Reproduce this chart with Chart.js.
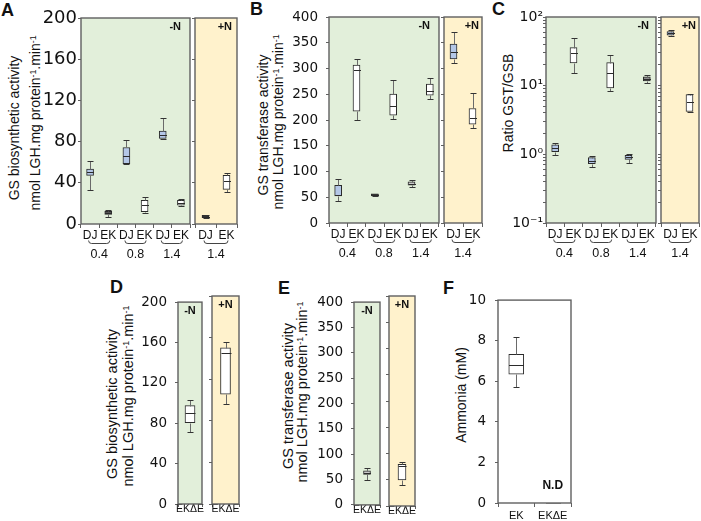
<!DOCTYPE html>
<html><head><meta charset="utf-8">
<script src="https://cdn.jsdelivr.net/npm/chart.js@4"></script>
<style>
html,body{margin:0;padding:0;background:#fff;}
body{width:701px;height:521px;overflow:hidden;position:relative;font-family:'Liberation Sans',Arial,Helvetica,sans-serif;color:#111;}
canvas{position:absolute;}
.pl{position:absolute;font-weight:bold;font-size:18px;line-height:18px;}
.yt{position:absolute;white-space:nowrap;line-height:1;transform:translate(-50%,-50%) rotate(-90deg);}
.sp{font-size:0.62em;position:relative;top:-0.5em;}
</style></head><body>
<div class="pl" style="left:1px;top:1px">A</div>
<div class="pl" style="left:250px;top:0px">B</div>
<div class="pl" style="left:492px;top:0px">C</div>
<div class="pl" style="left:110px;top:278px">D</div>
<div class="pl" style="left:278px;top:279px">E</div>
<div class="pl" style="left:443px;top:279px">F</div>

<div class="yt" style="left:13.5px;top:128px;font-size:14px">GS biosynthetic activity</div>
<div class="yt" style="left:35px;top:122.5px;font-size:14px">nmol LGH.mg protein<span class="sp">-1</span>.min<span class="sp">-1</span></div>
<div class="yt" style="left:263px;top:125px;font-size:14px">GS transferase activity</div>
<div class="yt" style="left:277.5px;top:122px;font-size:14px">nmol LGH.mg protein<span class="sp">-1</span>.min<span class="sp">-1</span></div>
<div class="yt" style="left:508px;top:103px;font-size:14px">Ratio GST/GSB</div>
<div class="yt" style="left:112px;top:404px;font-size:14.5px">GS biosynthetic activity</div>
<div class="yt" style="left:128px;top:396px;font-size:14.5px">nmol LGH.mg protein<span class="sp">-1</span>.min<span class="sp">-1</span></div>
<div class="yt" style="left:288px;top:396px;font-size:14.5px">GS transferase activity</div>
<div class="yt" style="left:301.5px;top:392px;font-size:14.5px">nmol LGH.mg protein<span class="sp">-1</span>.min<span class="sp">-1</span></div>
<div class="yt" style="left:461px;top:395px;font-size:14px">Ammonia (mM)</div>

<script>
// ---------------- DATA ----------------
// Panel A : GS biosynthetic activity
const aCatsN = ['DJ','EK','DJ','EK','DJ','EK'];
const aGroupsN = ['0.4','0.8','1.4'];
const aMinN = [33.0, 7.1, 58.5, 10.7, 82.4, 17.8];
const aQ1N  = [47.2, 9.4, 58.5, 12.0, 83.0, 18.4];
const aMedN = [50.4, 10.8, 65.9, 18.4, 86.6, 20.7];
const aQ3N  = [53.3, 12.3, 74.3, 22.9, 90.1, 22.9];
const aMaxN = [60.7, 13.2, 81.7, 26.2, 102.7, 23.9];
const aCatsP = ['DJ','EK'];
const aGroupsP = ['1.4'];
const aMinP = [6.0, 30.7];
const aQ1P  = [6.1, 33.6];
const aMedP = [7.2, 41.4];
const aQ3P  = [8.4, 47.2];
const aMaxP = [8.5, 50.0];
const aTicks = [0, 40, 80, 120, 160, 200];

// Panel B : GS transferase activity
const bCatsN = ['DJ','EK','DJ','EK','DJ','EK'];
const bGroupsN = ['0.4','0.8','1.4'];
const bMinN = [42.0, 200.0, 52.0, 201.7, 69.4, 240.6];
const bQ1N  = [52.5, 217.2, 52.5, 209.5, 73.3, 248.4];
const bMedN = [54.0, 297.0, 54.5, 227.0, 76.5, 256.0];
const bQ3N  = [73.3, 306.7, 56.4, 250.3, 79.8, 269.8];
const bMaxN = [85.0, 318.4, 57.0, 277.6, 84.3, 280.8];
const bCatsP = ['DJ','EK'];
const bGroupsP = ['1.4'];
const bMinP = [310.0, 183.5];
const bQ1P  = [318.4, 192.0];
const bMedP = [332.0, 204.3];
const bQ3P  = [347.6, 222.4];
const bMaxP = [370.3, 252.3];
const bTicks = [0, 50, 100, 150, 200, 250, 300, 350, 400];

// Panel C : Ratio GST/GSB (log)
const cCatsN = ['DJ','EK','DJ','EK','DJ','EK'];
const cGroupsN = ['0.4','0.8','1.4'];
const cMinN = [0.98, 15.4, 0.66, 8.24, 0.74, 11.0];
const cQ1N  = [1.09, 21.4, 0.73, 9.3, 0.845, 11.7];
const cMedN = [1.22, 30.3, 0.81, 15.1, 0.90, 12.6];
const cQ3N  = [1.38, 35.8, 0.894, 21.6, 0.967, 13.5];
const cMaxN = [1.46, 50.0, 0.956, 28.3, 1.0, 14.4];
const cCatsP = ['DJ','EK'];
const cGroupsP = ['1.4'];
const cMinP = [52.3, 4.15];
const cQ1P  = [54.6, 4.2];
const cMedP = [57.8, 5.75];
const cQ3P  = [61.2, 7.4];
const cMaxP = [64.0, 7.5];
const cLabelVals = [0.1, 1, 10, 100];
const cLabelText = ['10\u207B\u00B9', '10\u2070', '10\u00B9', '10\u00B2'];

// Panel D : GS biosynthetic activity, EKΔE
const dCats = ['EK\u0394E'];
const dMinN = [71.0],  dQ1N = [80.6],  dMedN = [90.6],  dQ3N = [97.4],  dMaxN = [102.8];
const dMinP = [96.4],  dQ1P = [105.7], dMedP = [145.3], dQ3P = [150.1], dMaxP = [155.6];
const dTicks = [0, 40, 80, 120, 160, 200];

// Panel E : GS transferase activity, EKΔE
const eCats = ['EK\u0394E'];
const eMinN = [50.0], eQ1N = [60.0], eMedN = [63.0], eQ3N = [67.0], eMaxN = [72.0];
const eMinP = [40.0], eQ1P = [49.5], eMedP = [76.5], eQ3P = [79.5], eMaxP = [84.0];
const eTicks = [0, 50, 100, 150, 200, 250, 300, 350, 400];

// Panel F : Ammonia
const fCats = ['EK', 'EK\u0394E'];
const fMin = [5.71, 0], fQ1 = [6.35, 0], fMed = [6.78, 0], fQ3 = [7.33, 0], fMax = [8.19, 0];
const fNote = ['', 'N.D'];
const fTicks = [0, 2, 4, 6, 8, 10];

// ---------------- STYLE ----------------
const FONT = "'Liberation Sans', Arial, Helvetica, sans-serif";
const TFONT = "'DejaVu Sans', 'Liberation Sans', sans-serif";
const FRAME = '#606060';
const GREEN = '#e2efda', YELLOW = '#fff2cc', BLUE = '#b4c7e7';
Chart.defaults.font.family = FONT;
Chart.defaults.color = '#111';

function pairGroups(names) { return names.map((t, i) => ({text: t, a: 2 * i, b: 2 * i + 1})); }

function makeDeco(o) {
  return {
    id: 'boxdeco',
    beforeDraw(chart) {
      const {ctx, chartArea: a} = chart;
      ctx.save(); ctx.fillStyle = o.bg;
      ctx.fillRect(a.left, a.top, a.right - a.left, a.bottom - a.top);
      ctx.restore();
    },
    afterDatasetsDraw(chart) {
      const {ctx} = chart; const ys = chart.scales.y;
      const meta = chart.getDatasetMeta(0); const s = o.stats;
      const seg = (x1, y1, x2, y2) => { ctx.beginPath(); ctx.moveTo(x1, y1); ctx.lineTo(x2, y2); ctx.stroke(); };
      ctx.save(); ctx.lineWidth = 1;
      meta.data.forEach((bar, i) => {
        const x = Math.round(bar.x) + 0.5; const hw = bar.width / 2;
        const py = v => Math.round(ys.getPixelForValue(v)) + 0.5;
        const yMin = py(s.min[i]), yQ1 = py(s.q1[i]), yMed = py(s.med[i]), yQ3 = py(s.q3[i]), yMax = py(s.max[i]);
        ctx.strokeStyle = '#6a6a6a';
        seg(x, yQ3, x, yMax); seg(x, yQ1, x, yMin);
        ctx.strokeStyle = '#333';
        seg(x - 3, yMax, x + 3, yMax); seg(x - 3, yMin, x + 3, yMin);
        ctx.strokeStyle = s.q3[i] === 0 ? '#999' : '#2b2b2b';
        seg(x - hw, yMed, x + hw, yMed);
      });
      ctx.restore();
    },
    afterDraw(chart) {
      const {ctx, chartArea: a} = chart; const xs = chart.scales.x;
      ctx.save();
      ctx.strokeStyle = FRAME; ctx.lineWidth = 1.4;
      ctx.strokeRect(a.left, a.top, a.right - a.left, a.bottom - a.top);
      ctx.fillStyle = '#111'; ctx.textBaseline = 'middle';
      if (o.tag) {
        ctx.font = 'bold 11px ' + FONT;
        if (o.tagAlign === 'center') { ctx.textAlign = 'center'; ctx.fillText(o.tag, (a.left + a.right) / 2, a.top + 9); }
        else { ctx.textAlign = 'right'; ctx.fillText(o.tag, a.right - o.tagInset, a.top + 9); }
      }
      if (o.groups) {
        ctx.strokeStyle = '#444'; ctx.lineWidth = 1; ctx.font = '12.5px ' + FONT; ctx.textAlign = 'center';
        o.groups.forEach(g => {
          const x0 = xs.getPixelForValue(g.a) - 1.5, x1 = xs.getPixelForValue(g.b) + 1.5;
          const yb = a.bottom + 19.5;
          ctx.beginPath(); ctx.moveTo(x0, yb - 3); ctx.quadraticCurveTo(x0, yb, x0 + 3, yb);
          ctx.lineTo(x1 - 3, yb); ctx.quadraticCurveTo(x1, yb, x1, yb - 3); ctx.stroke();
          ctx.fillText(g.text, (x0 + x1) / 2, a.bottom + 30.5);
        });
      }
      if (o.notes) {
        ctx.font = 'bold 12px ' + FONT; ctx.textAlign = 'center';
        o.notes.forEach((t, i) => { if (t) ctx.fillText(t, xs.getPixelForValue(i), a.bottom - 17); });
      }
      ctx.restore();
    }
  };
}

function makeChart(o) {
  const cv = document.createElement('canvas');
  cv.width = o.cw; cv.height = o.ch;
  cv.style.left = o.cl + 'px'; cv.style.top = o.ct + 'px';
  cv.style.width = o.cw + 'px'; cv.style.height = o.ch + 'px';
  document.body.appendChild(cv);
  const L = o.area[0] - o.cl, T = o.area[1] - o.ct, R = o.area[2] - o.cl, B = o.area[3] - o.ct;
  const yScale = {
    type: o.log ? 'logarithmic' : 'linear',
    min: o.ymin, max: o.ymax,
    afterBuildTicks: s => { s.ticks = o.yTicks.map(v => ({value: v})); },
    afterFit: s => { s.width = L; },
    border: {display: false},
    grid: {drawOnChartArea: false, drawTicks: true, tickLength: 3, tickColor: FRAME, color: FRAME, tickWidth: 1},
    ticks: {display: !!o.showY, autoSkip: false, padding: o.yPad || 0, color: '#111',
            font: {family: TFONT, size: o.yFont || 13}, callback: o.yCallback || (v => String(v))}
  };
  return new Chart(cv, {
    type: 'bar',
    data: {labels: o.cats, datasets: [{
      data: o.stats.q1.map((v, i) => [v, o.stats.q3[i]]),
      backgroundColor: o.fills, borderColor: '#2b2b2b', borderWidth: 1,
      borderSkipped: false, barThickness: o.boxW
    }]},
    options: {
      responsive: false, animation: false, devicePixelRatio: 1,
      layout: {padding: {left: 0, top: T, right: o.cw - R, bottom: 0}},
      plugins: {legend: {display: false}, tooltip: {enabled: false}},
      scales: {
        x: {
          type: 'category', offset: true,
          afterFit: s => { s.height = o.ch - B; },
          border: {display: false},
          grid: {offset: true, drawOnChartArea: false, drawTicks: true, tickLength: o.xTick, tickColor: FRAME, color: FRAME},
          ticks: {autoSkip: false, maxRotation: 0, minRotation: 0, padding: o.xPad, color: '#111', font: {family: FONT, size: o.xFont}}
        },
        y: yScale
      }
    },
    plugins: [makeDeco({bg: o.bg, stats: o.stats, tag: o.tag, tagAlign: o.tagAlign, tagInset: o.tagInset, groups: o.groups, notes: o.notes})]
  });
}

const st = (min, q1, med, q3, max) => ({min, q1, med, q3, max});

// ---- Panel A ----
makeChart({cl: 30, ct: 0, cw: 163, ch: 265, area: [81, 18, 190, 224], cats: aCatsN,
  stats: st(aMinN, aQ1N, aMedN, aQ3N, aMaxN), fills: [BLUE, '#555', BLUE, '#fff', BLUE, '#fff'], boxW: 7,
  ymin: aTicks[0], ymax: aTicks[aTicks.length - 1], yTicks: aTicks, showY: true, yFont: 18, yPad: 1,
  xTick: 4, xPad: 0, xFont: 12, bg: GREEN, tag: '-N', tagInset: 9, groups: pairGroups(aGroupsN)});
makeChart({cl: 191, ct: 0, cw: 49, ch: 265, area: [195, 18, 237, 224], cats: aCatsP,
  stats: st(aMinP, aQ1P, aMedP, aQ3P, aMaxP), fills: ['#333', '#fff'], boxW: 7,
  ymin: aTicks[0], ymax: aTicks[aTicks.length - 1], yTicks: aTicks, showY: false,
  xTick: 4, xPad: 0, xFont: 12, bg: YELLOW, tag: '+N', tagInset: 5, groups: pairGroups(aGroupsP)});

// ---- Panel B ----
makeChart({cl: 285, ct: 0, cw: 157, ch: 265, area: [329, 17, 439, 223], cats: bCatsN,
  stats: st(bMinN, bQ1N, bMedN, bQ3N, bMaxN), fills: [BLUE, '#fff', '#333', '#fff', '#c8c8c8', '#fff'], boxW: 7,
  ymin: bTicks[0], ymax: bTicks[bTicks.length - 1], yTicks: bTicks, showY: true, yFont: 13.5, yPad: 8,
  xTick: 4, xPad: 0, xFont: 12, bg: GREEN, tag: '-N', tagInset: 9, groups: pairGroups(bGroupsN)});
makeChart({cl: 440, ct: 0, cw: 45, ch: 265, area: [444, 17, 482, 223], cats: bCatsP,
  stats: st(bMinP, bQ1P, bMedP, bQ3P, bMaxP), fills: [BLUE, '#fff'], boxW: 7,
  ymin: bTicks[0], ymax: bTicks[bTicks.length - 1], yTicks: bTicks, showY: false,
  xTick: 4, xPad: 0, xFont: 12, bg: YELLOW, tag: '+N', tagInset: 3, groups: pairGroups(bGroupsP)});

// ---- Panel C (log) ----
const cTicks = [];
for (const e of [-1, 0, 1]) for (let k = 1; k < 10; k++) cTicks.push(+(k * Math.pow(10, e)).toFixed(3));
cTicks.push(100);
const cCallback = v => { const i = cLabelVals.indexOf(v); return i >= 0 ? cLabelText[i] : ''; };
makeChart({cl: 505, ct: 0, cw: 154, ch: 265, area: [546, 17, 656, 223], cats: cCatsN,
  stats: st(cMinN, cQ1N, cMedN, cQ3N, cMaxN), fills: [BLUE, '#fff', BLUE, '#fff', BLUE, '#8c8c8c'], boxW: 7,
  log: true, ymin: 0.1, ymax: 100, yTicks: cTicks, yCallback: cCallback, showY: true, yFont: 14, yPad: 0,
  xTick: 4, xPad: 0, xFont: 12, bg: GREEN, tag: '-N', tagInset: 7, groups: pairGroups(cGroupsN)});
makeChart({cl: 657, ct: 0, cw: 44, ch: 265, area: [661, 17, 699, 223], cats: cCatsP,
  stats: st(cMinP, cQ1P, cMedP, cQ3P, cMaxP), fills: [BLUE, '#fff'], boxW: 7,
  log: true, ymin: 0.1, ymax: 100, yTicks: cTicks, showY: false,
  xTick: 4, xPad: 0, xFont: 12, bg: YELLOW, tag: '+N', tagInset: 3, groups: pairGroups(cGroupsP)});

// ---- Panel D ----
makeChart({cl: 130, ct: 286, cw: 75, ch: 235, area: [178, 296, 202, 504], cats: dCats,
  stats: st(dMinN, dQ1N, dMedN, dQ3N, dMaxN), fills: ['#fff'], boxW: 10,
  ymin: dTicks[0], ymax: dTicks[dTicks.length - 1], yTicks: dTicks, showY: true, yFont: 13.5, yPad: 8,
  xTick: 3, xPad: -4, xFont: 10.5, bg: GREEN, tag: '-N', tagAlign: 'center'});
makeChart({cl: 205, ct: 286, cw: 38, ch: 235, area: [212, 296, 239, 504], cats: dCats,
  stats: st(dMinP, dQ1P, dMedP, dQ3P, dMaxP), fills: ['#fff'], boxW: 10,
  ymin: dTicks[0], ymax: dTicks[dTicks.length - 1], yTicks: dTicks, showY: false,
  xTick: 3, xPad: -4, xFont: 10.5, bg: YELLOW, tag: '+N', tagAlign: 'center'});

// ---- Panel E ----
makeChart({cl: 305, ct: 286, cw: 78, ch: 235, area: [354, 296, 380, 506], cats: eCats,
  stats: st(eMinN, eQ1N, eMedN, eQ3N, eMaxN), fills: ['#c8c8c8'], boxW: 7,
  ymin: eTicks[0], ymax: eTicks[eTicks.length - 1], yTicks: eTicks, showY: true, yFont: 13.5, yPad: 8,
  xTick: 3, xPad: -4, xFont: 10.5, bg: GREEN, tag: '-N', tagAlign: 'center'});
makeChart({cl: 383, ct: 286, cw: 36, ch: 235, area: [389, 296, 415, 506], cats: eCats,
  stats: st(eMinP, eQ1P, eMedP, eQ3P, eMaxP), fills: ['#fff'], boxW: 8,
  ymin: eTicks[0], ymax: eTicks[eTicks.length - 1], yTicks: eTicks, showY: false,
  xTick: 3, xPad: -4, xFont: 10.5, bg: YELLOW, tag: '+N', tagAlign: 'center'});

// ---- Panel F ----
makeChart({cl: 465, ct: 283, cw: 110, ch: 238, area: [498, 293, 571, 503], cats: fCats,
  stats: st(fMin, fQ1, fMed, fQ3, fMax), fills: ['#fff', '#fff'], boxW: 15,
  ymin: fTicks[0], ymax: fTicks[fTicks.length - 1], yTicks: fTicks, showY: true, yFont: 13.5, yPad: 9,
  xTick: 4, xPad: 2, xFont: 11, bg: '#ffffff', notes: fNote});
</script>
</body></html>
